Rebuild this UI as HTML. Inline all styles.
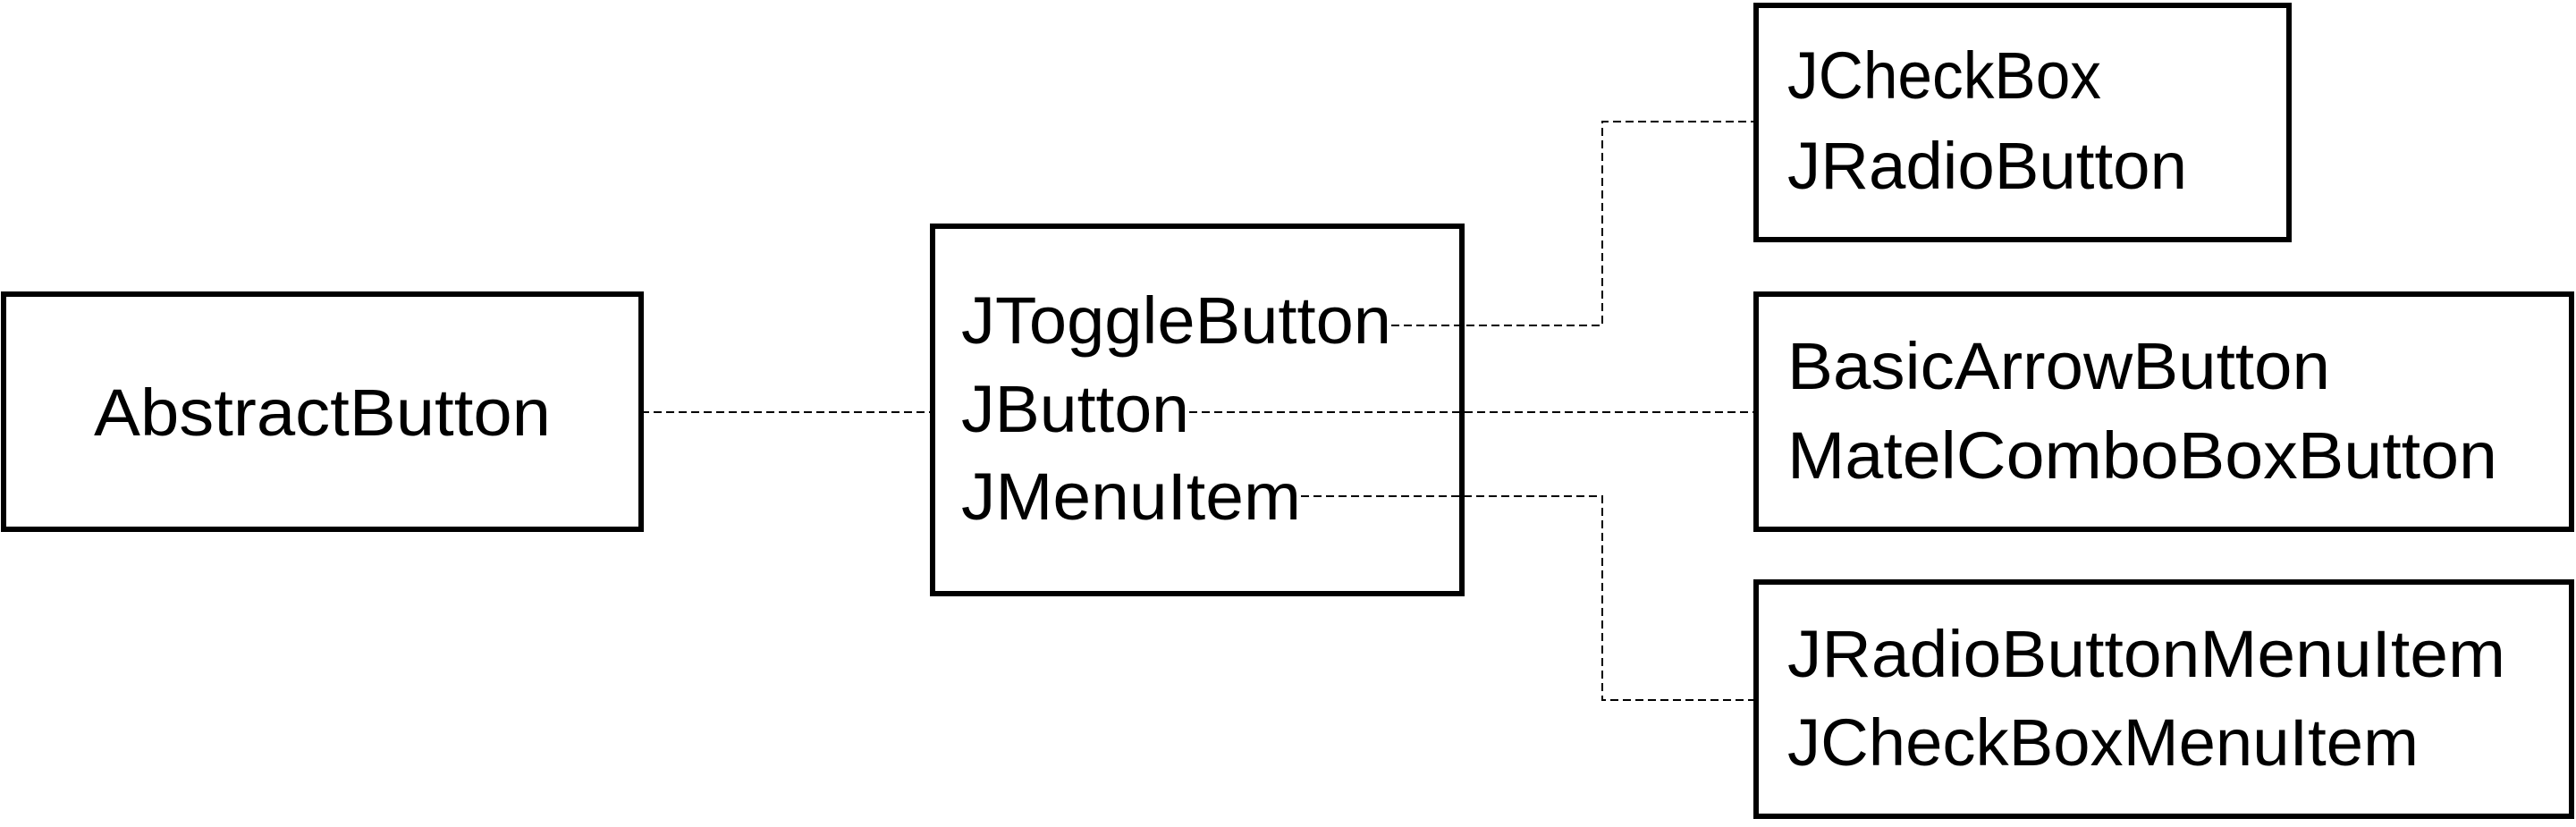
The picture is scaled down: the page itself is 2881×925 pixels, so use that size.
<!DOCTYPE html>
<html><head><meta charset="utf-8"><style>html,body{margin:0;padding:0;background:#fff}svg{display:block}</style></head>
<body>
<svg width="2881" height="925" viewBox="0 0 2881 925" xmlns="http://www.w3.org/2000/svg">
<g fill="none" stroke="#000" stroke-width="2" stroke-dasharray="9,5">
<line x1="717" y1="461" x2="1042" y2="461"/>
<polyline points="1556,364 1792,364 1792,136 1962,136"/>
<line x1="1330" y1="461" x2="1962" y2="461"/>
<polyline points="1455,555 1792,555 1792,783 1962,783"/>
</g>
<g fill="none" stroke="#000" stroke-width="6">
<rect x="4" y="329" width="713" height="263"/>
<rect x="1043" y="253" width="592" height="411"/>
<rect x="1964" y="6" width="596" height="262"/>
<rect x="1964" y="329" width="912" height="263"/>
<rect x="1964" y="651" width="912" height="262"/>
</g>
<g font-family="Liberation Sans, sans-serif" font-size="74" fill="#000">
<text x="105" y="487" textLength="511" lengthAdjust="spacingAndGlyphs">AbstractButton</text>
<text x="1075" y="384" textLength="481" lengthAdjust="spacingAndGlyphs">JToggleButton</text>
<text x="1075" y="483" textLength="255" lengthAdjust="spacingAndGlyphs">JButton</text>
<text x="1075" y="581" textLength="380" lengthAdjust="spacingAndGlyphs">JMenuItem</text>
<text x="1999" y="110" textLength="351" lengthAdjust="spacingAndGlyphs">JCheckBox</text>
<text x="1999" y="211" textLength="447" lengthAdjust="spacingAndGlyphs">JRadioButton</text>
<text x="1999" y="435" textLength="607" lengthAdjust="spacingAndGlyphs">BasicArrowButton</text>
<text x="1999" y="535" textLength="794" lengthAdjust="spacingAndGlyphs">MatelComboBoxButton</text>
<text x="1999" y="757" textLength="803" lengthAdjust="spacingAndGlyphs">JRadioButtonMenuItem</text>
<text x="1999" y="856" textLength="706" lengthAdjust="spacingAndGlyphs">JCheckBoxMenuItem</text>
</g>
</svg>
</body></html>
